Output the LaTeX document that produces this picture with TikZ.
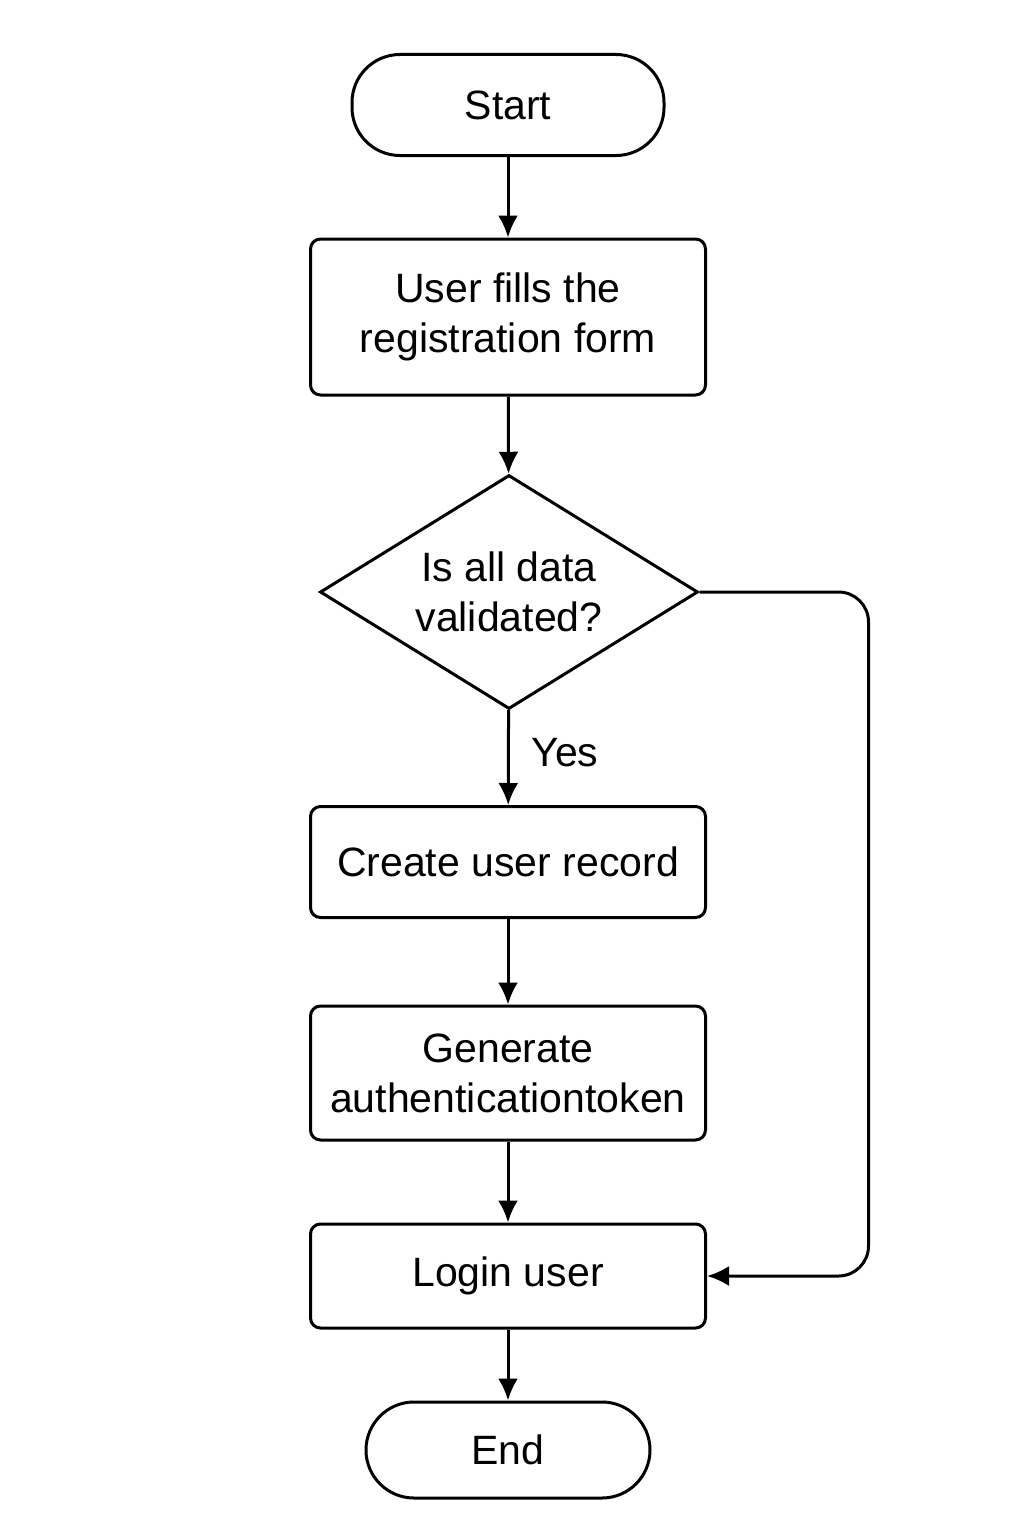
\documentclass[tikz,border=0pt]{standalone}
\usepackage{fontspec}
\setmainfont{Liberation Sans}
\usetikzlibrary{shapes.geometric,arrows.meta}
\begin{document}
\begin{tikzpicture}[x=0.5pt,y=-0.5pt,
  base/.style={draw,line width=1.5pt,font=\fontsize{20.5}{25}\selectfont,align=center,inner sep=0pt},
  term/.style={base,rounded corners=24pt},
  proc/.style={base,rounded corners=5pt,minimum width=197.5pt},
  dec/.style={base,diamond,aspect=1.615,minimum width=189pt,minimum height=117pt},
  arr/.style={line width=1.5pt,-{Latex[length=11pt,width=10pt]}},
  lbl/.style={font=\fontsize{20.5}{25}\selectfont,inner sep=0pt}]
\useasboundingbox (0,0) rectangle (1024,1536);
\node[term,minimum width=156pt,minimum height=50.5pt] (start) at (508,105) {Start};
\node[proc,minimum height=78pt] (fill) at (508,317) {User fills the\\registration form};
\node[dec] (valid) at (509,592) {Is all data\\validated?};
\node[proc,minimum height=55.5pt] (create) at (508,862) {Create user record};
\node[proc,minimum height=67pt] (token) at (508,1073) {Generate\\authenticationtoken};
\node[proc,minimum height=52pt] (login) at (508,1276) {Login user};
\node[term,minimum width=142pt,minimum height=48pt] (end) at (508,1450) {End};
\node[lbl] (yes) at (565,753) {Yes};
\draw[arr] (start) -- (fill);
\draw[arr] (fill) -- (valid);
\draw[arr] (valid) -- (create);
\draw[arr] (create) -- (token);
\draw[arr] (token) -- (login);
\draw[arr] (login) -- (end);
\draw[arr,rounded corners=15pt] (valid.east) -- ++(169,0) |- (login.east);
\end{tikzpicture}
\end{document}
